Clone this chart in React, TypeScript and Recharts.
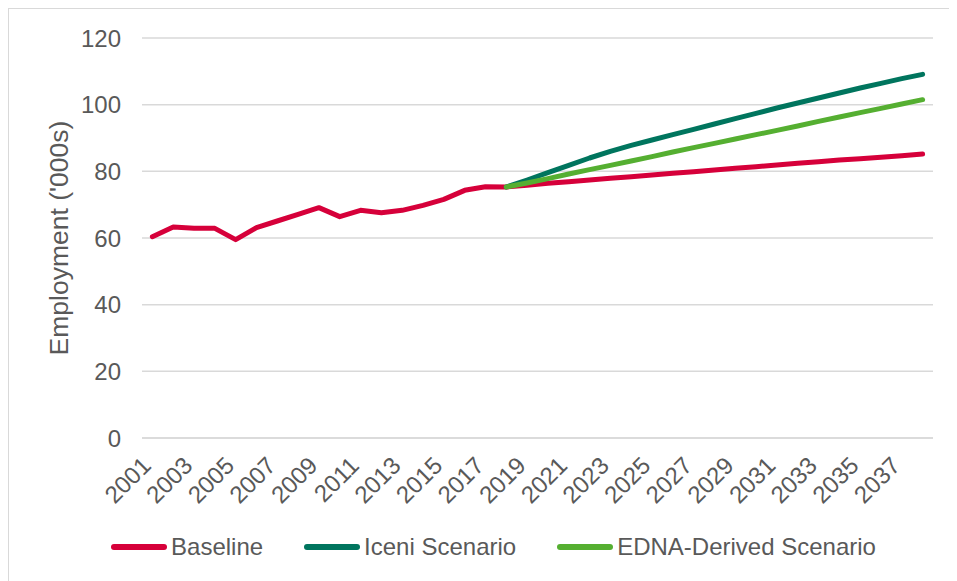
import { LineChart, Line, XAxis, YAxis, CartesianGrid, Legend } from 'recharts'

const years = [
  '2001', '2002', '2003', '2004', '2005', '2006', '2007', '2008', '2009', '2010',
  '2011', '2012', '2013', '2014', '2015', '2016', '2017', '2018', '2019', '2020',
  '2021', '2022', '2023', '2024', '2025', '2026', '2027', '2028', '2029', '2030',
  '2031', '2032', '2033', '2034', '2035', '2036', '2037', '2038',
]

const baseline = [
  60.4, 63.3, 62.9, 62.9, 59.5, 63.1, 65.1, 67.1, 69.1, 66.4, 68.3, 67.6, 68.3,
  69.8, 71.6, 74.3, 75.4, 75.3, 75.8, 76.4, 76.9, 77.4, 77.9, 78.4, 78.9, 79.4,
  79.9, 80.4, 80.9, 81.4, 81.9, 82.4, 82.9, 83.4, 83.8, 84.2, 84.7, 85.2,
]

// scenarios only start in 2018
const iceni = [
  null, null, null, null, null, null, null, null, null, null, null, null, null,
  null, null, null, null, 75.3, 77.4, 79.6, 81.8, 84.0, 86.0, 87.8, 89.4, 91.0,
  92.6, 94.2, 95.8, 97.4, 99.0, 100.5, 102.0, 103.5, 105.0, 106.4, 107.8, 109.1,
]

const edna = [
  null, null, null, null, null, null, null, null, null, null, null, null, null,
  null, null, null, null, 75.3, 76.5, 77.8, 79.2, 80.5, 81.8, 83.1, 84.4, 85.8,
  87.1, 88.4, 89.7, 91.0, 92.3, 93.6, 95.0, 96.3, 97.6, 98.9, 100.2, 101.5,
]

const yTicks = [0, 20, 40, 60, 80, 100, 120]

const COLORS = {
  baseline: '#D6003A',
  iceni: '#00755E',
  edna: '#55AF31',
}

const FONT = '"Liberation Sans", Arial, sans-serif'
const TEXT = '#595959'

const data = years.map((year, i) => ({
  year,
  baseline: baseline[i],
  iceni: iceni[i],
  edna: edna[i],
}))

const legendItems = [
  { name: 'Baseline', color: COLORS.baseline },
  { name: 'Iceni Scenario', color: COLORS.iceni },
  { name: 'EDNA-Derived Scenario', color: COLORS.edna },
]

function YearTick({ x, y, payload }: any) {
  return (
    <text
      x={x}
      y={y + 29}
      transform={`rotate(-45, ${x}, ${y + 29})`}
      textAnchor="end"
      fontSize={24}
      fontFamily={FONT}
      fill={TEXT}
    >
      {payload.value}
    </text>
  )
}

function renderLegend() {
  return (
    <div
      style={{
        display: 'flex',
        justifyContent: 'center',
        alignItems: 'center',
        paddingLeft: 21,
        fontFamily: FONT,
        fontSize: 24,
        color: TEXT,
        height: 40,
      }}
    >
      {legendItems.map((item, i) => (
        <div
          key={item.name}
          style={{
            display: 'flex',
            alignItems: 'center',
            marginRight: i < legendItems.length - 1 ? 41 : 0,
          }}
        >
          <span
            style={{
              display: 'inline-block',
              width: 56,
              height: 6,
              borderRadius: 3,
              backgroundColor: item.color,
              marginRight: 4,
            }}
          />
          <span>{item.name}</span>
        </div>
      ))}
    </div>
  )
}

export default function App() {
  return (
    <div
      style={{
        width: 948,
        height: 572,
        borderLeft: '1px solid #d9d9d9',
        borderTop: '1px solid #d9d9d9',
        background: '#fff',
      }}
    >
      <LineChart
        width={948}
        height={572}
        data={data}
        margin={{ top: 29, right: 24, left: 0, bottom: 14 }}
      >
        <CartesianGrid vertical={false} stroke="#d9d9d9" strokeWidth={1.5} />
        <XAxis
          dataKey="year"
          interval={1}
          padding={{ left: 10.4, right: 10.4 }}
          tickLine={false}
          tickSize={0}
          tickMargin={0}
          axisLine={{ stroke: '#d9d9d9', strokeWidth: 1.5 }}
          tick={<YearTick />}
          height={89}
        />
        <YAxis
          width={133}
          domain={[0, 120]}
          ticks={yTicks}
          axisLine={false}
          tickLine={false}
          tickSize={6}
          tickMargin={15}
          tick={{ fontSize: 24, fontFamily: FONT, fill: TEXT }}
          label={{
            value: "Employment ('000s)",
            angle: -90,
            position: 'center',
            dx: -17,
            fontSize: 26.5,
            fontFamily: FONT,
            fill: TEXT,
          }}
        />
        <Legend
          verticalAlign="bottom"
          height={40}
          wrapperStyle={{ left: 0, width: 948 }}
          content={renderLegend}
        />
        <Line
          type="linear"
          dataKey="baseline"
          name="Baseline"
          stroke={COLORS.baseline}
          strokeWidth={5}
          strokeLinecap="round"
          strokeLinejoin="round"
          dot={false}
          isAnimationActive={false}
        />
        <Line
          type="linear"
          dataKey="iceni"
          name="Iceni Scenario"
          stroke={COLORS.iceni}
          strokeWidth={5}
          strokeLinecap="round"
          strokeLinejoin="round"
          dot={false}
          isAnimationActive={false}
        />
        <Line
          type="linear"
          dataKey="edna"
          name="EDNA-Derived Scenario"
          stroke={COLORS.edna}
          strokeWidth={5}
          strokeLinecap="round"
          strokeLinejoin="round"
          dot={false}
          isAnimationActive={false}
        />
      </LineChart>
    </div>
  )
}
